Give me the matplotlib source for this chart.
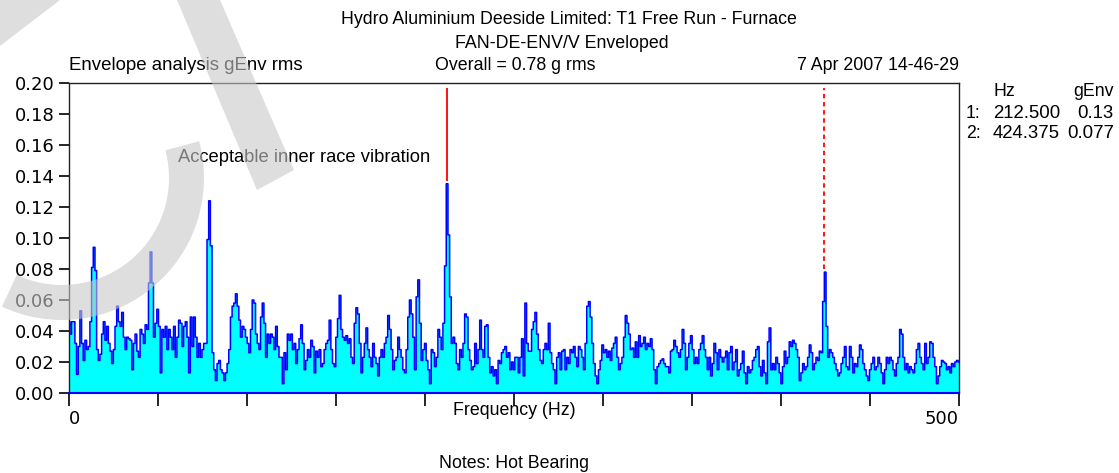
"""Envelope spectrum, Hydro Aluminium Deeside T1 Free Run - Furnace."""

import numpy as np
from matplotlib import pyplot as plt
from matplotlib.patches import Polygon, Wedge

plt.rcParams["font.family"] = ["Liberation Sans", "DejaVu Sans"]

# Envelope spectrum (gEnv rms), in four 125 Hz blocks
env_0_125 = [
    0.046, 0.038,
    0.046, 0.046, 0.032, 0.012, 0.030, 0.053, 0.032, 0.021, 0.034, 0.028,
    0.030, 0.046, 0.081, 0.094, 0.079, 0.028, 0.021, 0.025, 0.038, 0.046,
    0.034, 0.043, 0.032, 0.027, 0.019, 0.028, 0.043, 0.056, 0.046, 0.043,
    0.052, 0.036, 0.028, 0.036, 0.035, 0.034, 0.015, 0.032, 0.038, 0.027,
    0.023, 0.041, 0.038, 0.032, 0.044, 0.041, 0.071, 0.091, 0.071, 0.036,
    0.045, 0.054, 0.043, 0.013, 0.041, 0.036, 0.043, 0.028, 0.041, 0.036,
    0.028, 0.043, 0.023, 0.036, 0.047, 0.045, 0.030, 0.043, 0.046, 0.036,
    0.013, 0.049, 0.030, 0.049, 0.036, 0.023, 0.032, 0.023, 0.028, 0.032,
    0.032, 0.099, 0.124, 0.095, 0.026, 0.015, 0.008, 0.019, 0.021, 0.015,
    0.013, 0.008, 0.013, 0.019, 0.028, 0.049, 0.056, 0.058, 0.064, 0.056,
    0.047, 0.036, 0.043, 0.041, 0.036, 0.032, 0.026, 0.041, 0.060, 0.058,
    0.038, 0.032, 0.028, 0.049, 0.058, 0.045, 0.023, 0.038, 0.032, 0.038,
    0.036, 0.028, 0.043, 0.030, 0.023, 0.023, 0.006, 0.026, 0.015, 0.038,
    0.034, 0.038,
]
env_125_250 = [
    0.028, 0.032, 0.019, 0.028, 0.035, 0.044, 0.032, 0.015, 0.021, 0.028,
    0.023, 0.034, 0.030, 0.013, 0.027, 0.023, 0.028, 0.017, 0.019, 0.028,
    0.032, 0.034, 0.047, 0.028, 0.019, 0.017, 0.036, 0.048, 0.063, 0.041,
    0.036, 0.034, 0.037, 0.032, 0.035, 0.023, 0.019, 0.045, 0.055, 0.051,
    0.032, 0.013, 0.023, 0.032, 0.042, 0.028, 0.023, 0.017, 0.032, 0.023,
    0.019, 0.011, 0.023, 0.028, 0.023, 0.032, 0.036, 0.050, 0.041, 0.028,
    0.015, 0.021, 0.023, 0.036, 0.028, 0.023, 0.015, 0.013, 0.028, 0.049,
    0.060, 0.051, 0.036, 0.015, 0.062, 0.073, 0.045, 0.021, 0.028, 0.032,
    0.021, 0.015, 0.006, 0.028, 0.026, 0.017, 0.023, 0.041, 0.036, 0.028,
    0.045, 0.082, 0.135, 0.102, 0.062,
    0.032, 0.036, 0.032, 0.019, 0.015, 0.028, 0.023, 0.032, 0.051, 0.049,
    0.028, 0.021, 0.015, 0.017, 0.032, 0.019, 0.028, 0.047, 0.028, 0.023,
    0.043, 0.044, 0.023, 0.013, 0.017, 0.011, 0.015, 0.006, 0.021, 0.019,
    0.026, 0.028, 0.030, 0.023, 0.026, 0.015, 0.020,
]
env_250_375 = [
    0.015, 0.023, 0.023, 0.013, 0.023, 0.035, 0.011, 0.058, 0.032, 0.027,
    0.027, 0.041, 0.046, 0.052, 0.038, 0.028, 0.021, 0.019, 0.028, 0.032,
    0.028, 0.045, 0.026, 0.019, 0.015, 0.006, 0.023, 0.026, 0.015, 0.027,
    0.028, 0.015, 0.023, 0.019, 0.028, 0.026, 0.030, 0.023, 0.017, 0.030,
    0.028, 0.023, 0.015, 0.032, 0.056, 0.059, 0.049, 0.032, 0.019, 0.011,
    0.006, 0.015, 0.021, 0.031, 0.026, 0.028, 0.023, 0.027, 0.021, 0.029,
    0.032, 0.036, 0.023, 0.015, 0.019, 0.023, 0.036, 0.050, 0.045, 0.038,
    0.028, 0.029, 0.023, 0.033, 0.023, 0.037, 0.030, 0.032, 0.036, 0.028,
    0.032, 0.030, 0.035, 0.028, 0.015, 0.006, 0.017, 0.019, 0.021, 0.022,
    0.019, 0.017, 0.017, 0.013, 0.027, 0.028, 0.034, 0.030, 0.026, 0.023,
    0.028, 0.041, 0.032, 0.015, 0.023, 0.032, 0.037, 0.028, 0.019, 0.023,
    0.019, 0.028, 0.032, 0.037, 0.028, 0.023, 0.015, 0.023, 0.011, 0.019,
    0.032, 0.026, 0.015, 0.028, 0.023, 0.020, 0.023, 0.027, 0.015, 0.026,
    0.030, 0.015, 0.020,
]
env_375_500 = [
    0.028, 0.011, 0.015, 0.019, 0.027, 0.013, 0.006, 0.017, 0.013, 0.015,
    0.021, 0.023, 0.028, 0.030, 0.017, 0.011, 0.021, 0.013, 0.006, 0.033,
    0.042, 0.015, 0.019, 0.015, 0.023, 0.019, 0.013, 0.006, 0.017, 0.027,
    0.019, 0.023, 0.033, 0.030, 0.034, 0.032, 0.028, 0.023, 0.008, 0.013,
    0.019, 0.015, 0.017, 0.023, 0.031, 0.026, 0.015, 0.019, 0.023, 0.021,
    0.027, 0.026, 0.059, 0.078, 0.043, 0.023,
    0.028, 0.026, 0.023, 0.019, 0.015, 0.011, 0.013, 0.019, 0.023, 0.030,
    0.017, 0.015, 0.030, 0.023, 0.013, 0.019, 0.017, 0.023, 0.031, 0.028,
    0.019, 0.015, 0.011, 0.008, 0.015, 0.019, 0.023, 0.015, 0.017, 0.023,
    0.019, 0.013, 0.006, 0.015, 0.023, 0.019, 0.023, 0.021, 0.015, 0.011,
    0.019, 0.023, 0.041, 0.038, 0.023, 0.015, 0.019, 0.013, 0.017, 0.015,
    0.013, 0.019, 0.028, 0.032, 0.023, 0.019, 0.015, 0.032, 0.019, 0.023,
    0.033, 0.032, 0.023, 0.017, 0.006, 0.011, 0.017, 0.021, 0.020, 0.019,
    0.015, 0.017, 0.013, 0.019, 0.017, 0.020, 0.021, 0.020,
]

# Cursor table
cursor_hz = [212.5, 424.375]
cursor_genv = ["0.13", "0.077"]
cursor_styles = ["-", (0, (2.5, 2))]

f_max = 500.0
y_ticks = [0.00, 0.02, 0.04, 0.06, 0.08, 0.10, 0.12, 0.14, 0.16, 0.18, 0.20]

title_lines = [
    "Hydro Aluminium Deeside Limited: T1 Free Run - Furnace",
    "FAN-DE-ENV/V Enveloped",
]
overall_text = "Overall = 0.78 g rms"
units_text = "Envelope analysis gEnv rms"
date_text = "7 Apr 2007 14-46-29"
notes_text = "Notes: Hot Bearing"
annotation_text = "Acceptable inner race vibration"

W, H = 1119, 473
FS = 12.8


def px(x, y):
    """Pixel position (from top left) to figure fraction."""
    return x / W, 1 - y / H


def put(fig, x, y, s, ha="left", **kw):
    fx, fy = px(x, y)
    kw.setdefault("fontsize", FS)
    fig.text(fx, fy, s, ha=ha, va="center", **kw)


# Data
g_env = np.array(env_0_125 + env_125_250 + env_250_375 + env_375_500)
freq = np.linspace(0, f_max, len(g_env))

# Figure
fig = plt.figure(figsize=(W / 100, H / 100), dpi=100)
ax = fig.add_axes([69 / W, 1 - 393 / H, 890 / W, 310 / H])

# Spectrum
ax.fill_between(freq, g_env, step="mid", color="#00FFFF", lw=0)
ax.step(freq, g_env, where="mid", color="#0000FF", lw=1.1)

# Cursors
for hz, style in zip(cursor_hz, cursor_styles):
    peak = g_env[np.argmin(np.abs(freq - hz))]
    ax.vlines(hz, peak + 0.002, 0.197, color="#FF0000", lw=1.3, linestyles=style)

# Axes
ax.set_xlim(0, f_max)
ax.set_ylim(0, 0.2)
ax.set_yticks(y_ticks)
ax.set_yticklabels([f"{t:.2f}" for t in y_ticks], family="DejaVu Sans", fontsize=13)
x_ticks = np.arange(0, f_max + 1, 50)
ax.set_xticks(x_ticks)
ax.set_xticklabels(["0"] + [""] * (len(x_ticks) - 2) + ["500"],
                   family="DejaVu Sans", fontsize=13)
labels = ax.get_xticklabels()
labels[0].set_horizontalalignment("left")
labels[-1].set_horizontalalignment("right")
ax.tick_params(axis="y", length=7, width=1.2, pad=3.5)
ax.tick_params(axis="x", length=9, width=1.2, pad=3.5)
for side in ["top", "left", "right"]:
    ax.spines[side].set_linewidth(1.0)
    ax.spines[side].set_color("#202020")
ax.spines["bottom"].set_color("#0000FF")
ax.spines["bottom"].set_linewidth(1.5)

# Header texts
put(fig, 569, 20, title_lines[0], ha="center")
put(fig, 562, 44, title_lines[1], ha="center")
put(fig, 515, 66, overall_text, ha="center")
put(fig, 69, 66, units_text, fontsize=13.4)
put(fig, 959, 66, date_text, ha="right")

# Annotation and axis label
put(fig, 178, 158, annotation_text, fontsize=13.2)
put(fig, 514, 410, "Frequency (Hz)", ha="center")
put(fig, 514, 463, notes_text, ha="center")

# Cursor table
put(fig, 1004, 92, "Hz", ha="center")
put(fig, 1114, 92, "gEnv", ha="right")
for i, (hz, val) in enumerate(zip(cursor_hz, cursor_genv)):
    y = 113 + 21 * i
    put(fig, 966, y, f"{i + 1}:")
    put(fig, 993, y, f"{hz:.3f}", fontsize=13.4)
    put(fig, 1114, y, val, ha="right", fontsize=13.4)

# Watermark
wm = dict(color="#C8C8C8", alpha=0.6, lw=0, transform=None, zorder=10)
band = [(177, 0), (220, 0), (294, 170), (257, 190)]
corner = [(0, 0), (60, 0), (0, 46)]
for shape in (band, corner):
    fig.add_artist(Polygon([(x, H - y) for x, y in shape], closed=True, **wm))
fig.add_artist(Wedge((62, H - 178), 142, 245, 15, width=35, **wm))

fig.savefig("out.png", dpi=100)
